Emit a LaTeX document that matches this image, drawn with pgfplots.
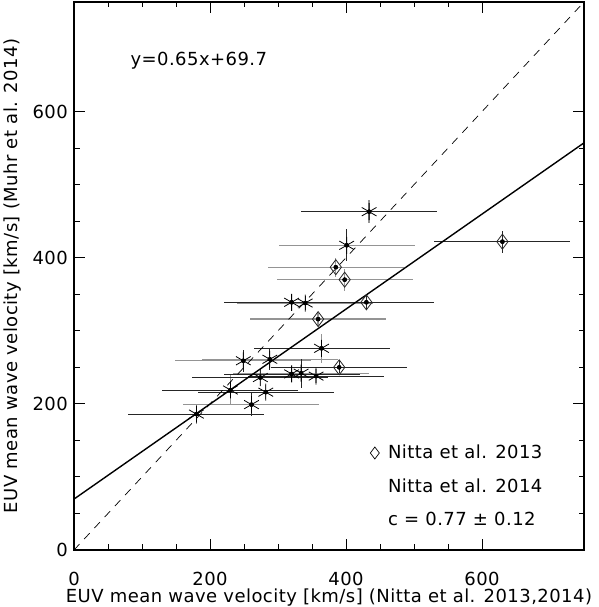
\documentclass[border=0pt]{standalone}
\usepackage{fontspec}
\setmainfont{DejaVu Sans}[LetterSpace=2.5]
\usepackage{pgfplots}
\pgfplotsset{compat=1.18}
\usepackage{pgfplotstable}

% asterisks (Nitta et al. 2014): horizontal bar black, vertical bar gray
\pgfplotstableread{
x y ex ey
434 463 100 16
320 339 100 10
364 276 100 20
320 241 100 10
356 238 100 10
274 236 100 12
230 219 100 20
282 216 100 10
180 186 100 14
}\astA
% asterisks: horizontal bar gray, vertical bar black
\pgfplotstableread{
x y ex ey
401 417 100 22
340 338 100 10
249 259 100 15
288 261 100 15
334 242 100 20
261 199 100 16
}\astB
% diamonds (Nitta et al. 2013): horizontal bar black
\pgfplotstableread{
x y ex ey
430 339 100 11
390 250 100 8
630 422 100 15
}\diaA
% diamonds: horizontal bar gray
\pgfplotstableread{
x y ex ey
385 387 100 13
398 370 100 15
359 316 100 9
}\diaB

\begin{document}
\fontsize{18}{21}\selectfont
\begin{tikzpicture}
\begin{axis}[
  scale only axis, width=510pt, height=548pt,
  xmin=0, xmax=750, ymin=0, ymax=750,
  xtick={0,200,400,600}, ytick={0,200,400,600},
  minor x tick num=3, minor y tick num=3,
  tick align=inside,
  major tick length=11pt, minor tick length=5.5pt,
  axis line style={line width=1.1pt},
  every tick/.style={black, line width=0.9pt},
  /pgf/number format/assume math mode=true,
  xticklabel style={yshift=-15.5pt},
  xlabel={EUV mean wave velocity [km/s] (Nitta et al. 2013,2014)},
  ylabel={EUV mean wave velocity [km/s] (Muhr et al. 2014)},
  xlabel style={at={(axis description cs:0.5,-0.0967)}, anchor=base},
  ylabel style={at={(axis description cs:-0.1196,0.5)}, anchor=center},
  legend cell align=left,
  legend style={at={(axis cs:433,147)}, anchor=north west, draw=none, fill=none,
    inner sep=0pt, row sep=13.5pt, font=\fontsize{18}{21}\selectfont},
  clip=false,
]
\coordinate (sw) at (rel axis cs:0,0);
\coordinate (ne) at (rel axis cs:1,1);

% gray horizontal bars
\addplot[forget plot, only marks, mark=none, error bars/.cd, x dir=both, x explicit, error mark=none,
  error bar style={draw=black!42, line width=1.3pt, solid}] table[x=x, y=y, x error=ex] {\astB};
\addplot[forget plot, only marks, mark=none, error bars/.cd, x dir=both, x explicit, error mark=none,
  error bar style={draw=black!42, line width=1.3pt, solid}] table[x=x, y=y, x error=ex] {\diaB};
% gray vertical bars
\addplot[forget plot, only marks, mark=none, error bars/.cd, y dir=both, y explicit, error mark=none,
  error bar style={draw=black!42, line width=1.3pt, solid}] table[x=x, y=y, y error=ey] {\astA};
\addplot[forget plot, only marks, mark=none, error bars/.cd, y dir=both, y explicit, error mark=none,
  error bar style={draw=black!42, line width=1.3pt, solid}] table[x=x, y=y, y error=ey] {\diaB};
% black horizontal bars
\addplot[forget plot, only marks, mark=none, error bars/.cd, x dir=both, x explicit, error mark=none,
  error bar style={draw=black!85, line width=0.8pt, solid}] table[x=x, y=y, x error=ex] {\astA};
\addplot[forget plot, only marks, mark=none, error bars/.cd, x dir=both, x explicit, error mark=none,
  error bar style={draw=black!85, line width=0.8pt, solid}] table[x=x, y=y, x error=ex] {\diaA};
% black vertical bars
\addplot[forget plot, only marks, mark=none, error bars/.cd, y dir=both, y explicit, error mark=none,
  error bar style={draw=black!85, line width=0.8pt, solid}] table[x=x, y=y, y error=ey] {\astB};
\addplot[forget plot, only marks, mark=none, error bars/.cd, y dir=both, y explicit, error mark=none,
  error bar style={draw=black!85, line width=0.8pt, solid}] table[x=x, y=y, y error=ey] {\diaA};

% one-to-one line and linear fit
\addplot[forget plot, black, line width=0.7pt, dash pattern=on 8pt off 7pt] coordinates {(0,0) (750,750)};
\addplot[forget plot, black, line width=1.4pt] coordinates {(0,69.7) (750,557.2)};

% markers
\addplot[forget plot, only marks, mark=asterisk, mark size=8.5pt, black, mark options={line width=0.8pt}]
  table[x=x, y=y] {\astA};
\addplot[forget plot, only marks, mark=asterisk, mark size=8.5pt, black, mark options={line width=0.8pt}]
  table[x=x, y=y] {\astB};
\addplot[forget plot, only marks, mark=diamond, mark size=7.5pt, black!85, mark options={line width=0.8pt}]
  table[x=x, y=y] {\diaA};
\addplot[forget plot, only marks, mark=diamond, mark size=7.5pt, black!85, mark options={line width=0.8pt}]
  table[x=x, y=y] {\diaB};

\addlegendimage{legend image code/.code={\path (-6pt,0pt) (11pt,0pt);
    \draw[black, line width=0.7pt] plot[mark=diamond, mark size=6pt] coordinates {(0pt,0pt)};}}
\addlegendentry{Nitta et al. 2013}
\addlegendimage{legend image code/.code={}}
\addlegendentry{Nitta et al. 2014}
\addlegendimage{legend image code/.code={}}
\addlegendentry{c = 0.77 ± 0.12}

\node[anchor=west] at (axis cs:74,669) {y=0.65x+69.7};
\end{axis}
\pgfresetboundingbox
\path ([shift={(-74pt,-57pt)}]sw) rectangle ([shift={(14pt,2pt)}]ne);
\end{tikzpicture}
\end{document}
